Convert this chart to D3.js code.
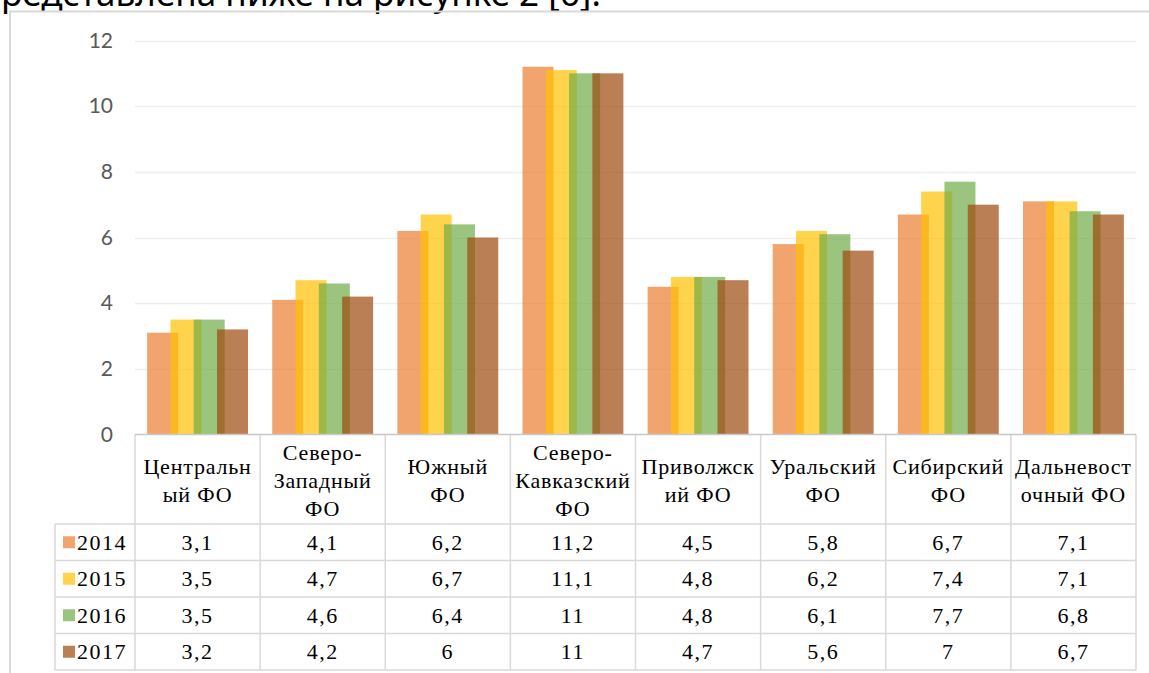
<!DOCTYPE html>
<html><head><meta charset="utf-8">
<script src="https://cdn.jsdelivr.net/npm/d3@7/dist/d3.min.js"></script>
<style>html,body{margin:0;padding:0;background:#fff;overflow:hidden}</style>
</head><body>
<svg id="c" width="1149" height="673"></svg>
<script>
const categories = ["Центральный ФО","Северо-Западный ФО","Южный ФО","Северо-Кавказский ФО","Приволжский ФО","Уральский ФО","Сибирский ФО","Дальневосточный ФО"];
const categoryLabelLines = [
  ["Центральн","ый ФО"],
  ["Северо-","Западный","ФО"],
  ["Южный","ФО"],
  ["Северо-","Кавказский","ФО"],
  ["Приволжск","ий ФО"],
  ["Уральский","ФО"],
  ["Сибирский","ФО"],
  ["Дальневост","очный ФО"]
];
const years = ["2014","2015","2016","2017"];
const values2014 = [3.1, 4.1, 6.2, 11.2, 4.5, 5.8, 6.7, 7.1];
const values2015 = [3.5, 4.7, 6.7, 11.1, 4.8, 6.2, 7.4, 7.1];
const values2016 = [3.5, 4.6, 6.4, 11, 4.8, 6.1, 7.7, 6.8];
const values2017 = [3.2, 4.2, 6, 11, 4.7, 5.6, 7, 6.7];
const seriesColors = ["#ED7D31","#FFC000","#70AD47","#9E480E"];
const yTicks = [0, 2, 4, 6, 8, 10, 12];
const captionText = "представлена ниже на рисунке 2 [6].";

const series = years.map((y, i) => ({year: y, color: seriesColors[i], values: [values2014, values2015, values2016, values2017][i]}));

const svg = d3.select("#c");
svg.append("rect").attr("width", 1149).attr("height", 673).attr("fill", "#fff");

const sansCap = "'Noto Sans'";
// cropped caption at top
const cap = svg.append("text").attr("y", 6).style("font-family", sansCap)
  .attr("font-size", 30).attr("fill", "#000").text(captionText);
{
  const full = cap.node().getComputedTextLength();
  const tmp = svg.append("text").style("font-family", sansCap).attr("font-size", 30).text("п");
  const pw = tmp.node().getComputedTextLength(); tmp.remove();
  const scale = 600 / (full - pw);
  cap.attr("font-size", 30 * scale).attr("x", 1 - pw * scale);
}

// frame
svg.append("path").attr("d", "M10,673 V11.5 H1149").attr("fill", "none").attr("stroke", "#D9D9D9").attr("stroke-width", 2);

const plotLeft = 135, plotRight = 1136;
const y = d3.scaleLinear().domain([0, 12]).range([434.5, 40.5]);
const x0 = d3.scaleBand().domain(categories).range([plotLeft, plotRight]).padding(0);
const step = 23.3, barW = 31;
const x1 = d3.scalePoint().domain(years).range([0, 3 * step]);
const groupW = 3 * step + barW;
const groupOff = (x0.bandwidth() - groupW) / 2;

// gridlines
svg.append("g").selectAll("line").data(yTicks.filter(t => t > 0)).join("line")
  .attr("x1", plotLeft).attr("x2", plotRight)
  .attr("y1", d => Math.round(y(d)) + 0.5).attr("y2", d => Math.round(y(d)) + 0.5)
  .attr("stroke", "#EEEEEE").attr("stroke-width", 1.5);

// y axis labels
const yAxis = d3.axisLeft(y).tickValues(yTicks).tickSize(0).tickPadding(0);
const ga = svg.append("g").attr("transform", "translate(113,0)").call(yAxis);
ga.select(".domain").remove();
ga.selectAll("text").style("font-family", "'Lato'").attr("font-size", 21).attr("fill", "#595959");

// bars
series.forEach(s => {
  svg.append("g").selectAll("rect").data(s.values.map((v, i) => ({v, c: categories[i]}))).join("rect")
    .attr("x", d => x0(d.c) + groupOff + x1(s.year))
    .attr("width", barW)
    .attr("y", d => y(d.v))
    .attr("height", d => y(0) - y(d.v))
    .attr("fill", s.color).attr("fill-opacity", 0.7);
});

// table
const headTop = 434.5, headBot = 524, rowH = 36.5, legLeft = 55;
const rowTop = i => headBot + i * rowH;
const tableBottom = rowTop(4);
const tg = svg.append("g").attr("stroke", "#D9D9D9").attr("stroke-width", 1.5);
svg.append("line").attr("x1", plotLeft).attr("x2", plotRight).attr("y1", headTop).attr("y2", headTop).attr("stroke", "#C8C8C8").attr("stroke-width", 1.5);
categories.forEach((c, i) => {
  tg.append("line").attr("x1", x0(c)).attr("x2", x0(c)).attr("y1", headTop).attr("y2", tableBottom);
});
tg.append("line").attr("x1", plotRight).attr("x2", plotRight).attr("y1", headTop).attr("y2", tableBottom);
tg.append("line").attr("x1", legLeft).attr("x2", legLeft).attr("y1", headBot).attr("y2", tableBottom);
[0, 1, 2, 3, 4].forEach(i => {
  tg.append("line").attr("x1", legLeft).attr("x2", plotRight).attr("y1", rowTop(i)).attr("y2", rowTop(i));
});

const serif = "'Liberation Serif'";
// header labels
categoryLabelLines.forEach((lines, i) => {
  const cx = x0(categories[i]) + x0.bandwidth() / 2;
  const lh = 28;
  const cy = (headTop + headBot) / 2 + 1;
  const t = svg.append("text").style("font-family", serif).attr("font-size", 22).attr("fill", "#000")
    .attr("text-anchor", "middle").attr("letter-spacing", 0.8);
  lines.forEach((ln, k) => {
    t.append("tspan").attr("x", cx).attr("y", cy + (k - (lines.length - 1) / 2) * lh).attr("dy", "0.35em").text(ln);
  });
});

// rows
const fmt = v => String(v).replace(".", ",");
series.forEach((s, r) => {
  const cy = rowTop(r) + rowH / 2;
  svg.append("rect").attr("x", 63).attr("y", cy - 6).attr("width", 12).attr("height", 12).attr("fill", s.color).attr("fill-opacity", 0.7);
  svg.append("text").attr("x", 77).attr("y", cy).attr("dy", "0.35em").style("font-family", serif).attr("font-size", 22).attr("fill", "#000").attr("letter-spacing", 1.5).text(s.year);
  svg.append("g").selectAll("text").data(s.values.map((v, i) => ({v, c: categories[i]}))).join("text")
    .attr("x", d => x0(d.c) + x0.bandwidth() / 2).attr("y", cy).attr("dy", "0.35em")
    .attr("text-anchor", "middle").style("font-family", serif).attr("font-size", 22).attr("fill", "#000")
    .attr("letter-spacing", 1.5)
    .text(d => fmt(d.v));
});
</script>
</body></html>
